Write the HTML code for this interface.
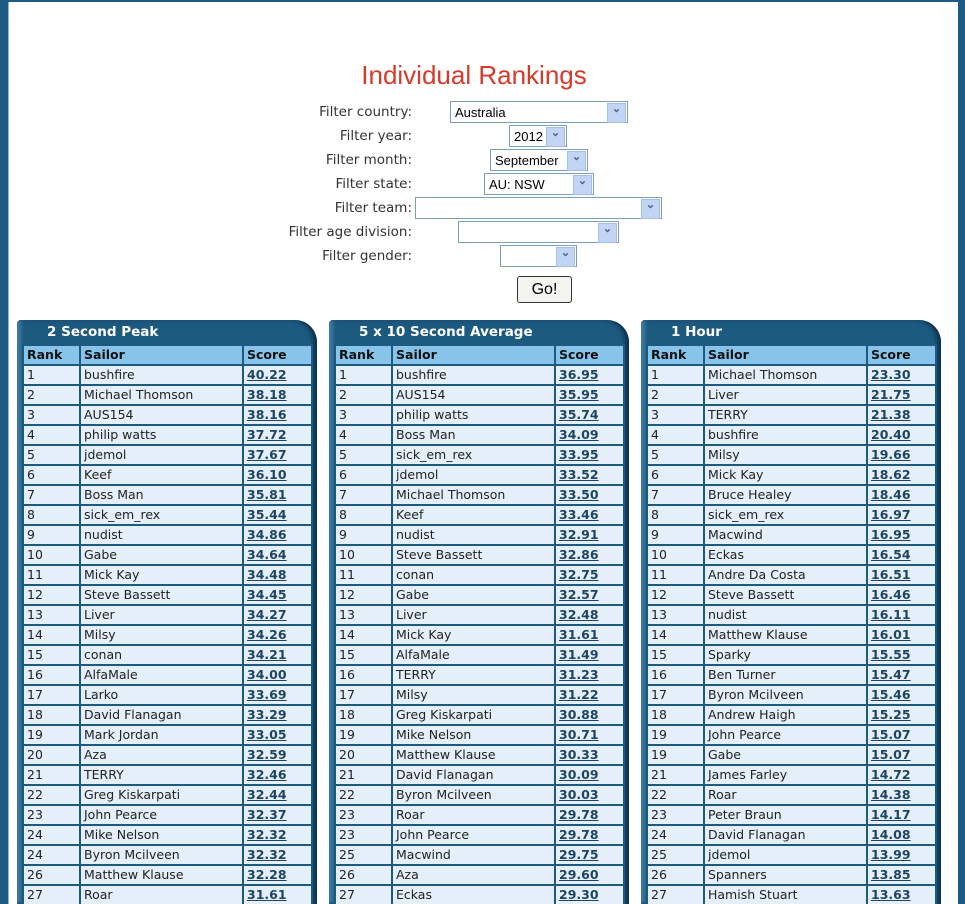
<!DOCTYPE html>
<html><head><meta charset="utf-8">
<style>
*{margin:0;padding:0;box-sizing:border-box}
html,body{width:965px;height:904px;overflow:hidden}
body{background:#fff;position:relative;font-family:"DejaVu Sans",Verdana,sans-serif}
.lb{position:absolute;left:0;top:0;width:9px;height:904px;background:#1e5b84;border-right:1px solid #8fb4cc}
.rb{position:absolute;right:0;top:0;width:7px;height:904px;background:#1e5b84}
.tb{position:absolute;left:0;top:0;width:965px;height:2px;background:#1e5b84}
h1{position:absolute;left:0;width:948px;top:60px;text-align:center;font:normal 26px "Liberation Sans",Arial,sans-serif;color:#d83a2a}
.lbl{position:absolute;right:553px;font-size:13.5px;color:#333;text-align:right;white-space:nowrap}
.sel{position:absolute;height:22px;border:1px solid #7f9db9;background:#fff;font:13px "Liberation Sans",Arial,sans-serif;padding:3px 4px;color:#000}
.sel:after{content:"⌄";position:absolute;right:1px;top:1px;width:17px;height:18px;background:#c3d5f5;border:1px solid #a6bde6;color:#4d6185;font-size:11px;text-align:center;line-height:10px;font-weight:bold}
.go{position:absolute;left:517px;top:276px;width:55px;height:27px;border:1px solid #333;border-radius:3px;background:#f4f4f0;font:16px "Liberation Sans",Arial,sans-serif;text-align:center;line-height:25px}
.panel{position:absolute;top:320px;width:300px;height:584px;overflow:hidden;background:#1d5a80;border-radius:4px 22px 0 0;box-shadow:inset -4px 0 4px #0e3350,inset 4px 0 3px #3d7aa2}
.panel .t{position:absolute;left:30px;top:4px;color:#fff;font-weight:bold;font-size:13.5px}
table{position:absolute;left:5px;top:24px;width:289px;table-layout:fixed;border-collapse:collapse;font-size:12.5px}
td{border:2px solid #1d5a80;background:#e4eff9;height:20px;padding:0 2px 0 3px;color:#222;line-height:16px;white-space:nowrap;overflow:hidden}
tr.h td{background:#88c3ea;font-weight:bold;color:#111}
td.s{font-weight:bold;text-decoration:underline;color:#1d4561}
</style></head><body>
<div class="lb"></div><div class="rb"></div><div class="tb"></div>
<h1>Individual Rankings</h1>
<div class="lbl" style="top:104px">Filter country:</div><div class="sel" style="left:450px;top:101px;width:178px">Australia</div>
<div class="lbl" style="top:128px">Filter year:</div><div class="sel" style="left:509px;top:125px;width:58px">2012</div>
<div class="lbl" style="top:152px">Filter month:</div><div class="sel" style="left:490px;top:149px;width:98px">September</div>
<div class="lbl" style="top:176px">Filter state:</div><div class="sel" style="left:484px;top:173px;width:110px">AU: NSW</div>
<div class="lbl" style="top:200px">Filter team:</div><div class="sel" style="left:415px;top:197px;width:247px"></div>
<div class="lbl" style="top:224px">Filter age division:</div><div class="sel" style="left:458px;top:221px;width:161px"></div>
<div class="lbl" style="top:248px">Filter gender:</div><div class="sel" style="left:500px;top:245px;width:77px"></div>
<div class="go">Go!</div>

<div class="panel" style="left:17px"><div class="t">2 Second Peak</div>
<table><colgroup><col style="width:57px"><col style="width:163px"><col style="width:69px"></colgroup>
<tr class="h"><td>Rank</td><td>Sailor</td><td>Score</td></tr>
<tr><td>1</td><td>bushfire</td><td class="s">40.22</td></tr>
<tr><td>2</td><td>Michael Thomson</td><td class="s">38.18</td></tr>
<tr><td>3</td><td>AUS154</td><td class="s">38.16</td></tr>
<tr><td>4</td><td>philip watts</td><td class="s">37.72</td></tr>
<tr><td>5</td><td>jdemol</td><td class="s">37.67</td></tr>
<tr><td>6</td><td>Keef</td><td class="s">36.10</td></tr>
<tr><td>7</td><td>Boss Man</td><td class="s">35.81</td></tr>
<tr><td>8</td><td>sick_em_rex</td><td class="s">35.44</td></tr>
<tr><td>9</td><td>nudist</td><td class="s">34.86</td></tr>
<tr><td>10</td><td>Gabe</td><td class="s">34.64</td></tr>
<tr><td>11</td><td>Mick Kay</td><td class="s">34.48</td></tr>
<tr><td>12</td><td>Steve Bassett</td><td class="s">34.45</td></tr>
<tr><td>13</td><td>Liver</td><td class="s">34.27</td></tr>
<tr><td>14</td><td>Milsy</td><td class="s">34.26</td></tr>
<tr><td>15</td><td>conan</td><td class="s">34.21</td></tr>
<tr><td>16</td><td>AlfaMale</td><td class="s">34.00</td></tr>
<tr><td>17</td><td>Larko</td><td class="s">33.69</td></tr>
<tr><td>18</td><td>David Flanagan</td><td class="s">33.29</td></tr>
<tr><td>19</td><td>Mark Jordan</td><td class="s">33.05</td></tr>
<tr><td>20</td><td>Aza</td><td class="s">32.59</td></tr>
<tr><td>21</td><td>TERRY</td><td class="s">32.46</td></tr>
<tr><td>22</td><td>Greg Kiskarpati</td><td class="s">32.44</td></tr>
<tr><td>23</td><td>John Pearce</td><td class="s">32.37</td></tr>
<tr><td>24</td><td>Mike Nelson</td><td class="s">32.32</td></tr>
<tr><td>24</td><td>Byron Mcilveen</td><td class="s">32.32</td></tr>
<tr><td>26</td><td>Matthew Klause</td><td class="s">32.28</td></tr>
<tr><td>27</td><td>Roar</td><td class="s">31.61</td></tr>
</table></div>

<div class="panel" style="left:329px"><div class="t">5 x 10 Second Average</div>
<table><colgroup><col style="width:57px"><col style="width:163px"><col style="width:69px"></colgroup>
<tr class="h"><td>Rank</td><td>Sailor</td><td>Score</td></tr>
<tr><td>1</td><td>bushfire</td><td class="s">36.95</td></tr>
<tr><td>2</td><td>AUS154</td><td class="s">35.95</td></tr>
<tr><td>3</td><td>philip watts</td><td class="s">35.74</td></tr>
<tr><td>4</td><td>Boss Man</td><td class="s">34.09</td></tr>
<tr><td>5</td><td>sick_em_rex</td><td class="s">33.95</td></tr>
<tr><td>6</td><td>jdemol</td><td class="s">33.52</td></tr>
<tr><td>7</td><td>Michael Thomson</td><td class="s">33.50</td></tr>
<tr><td>8</td><td>Keef</td><td class="s">33.46</td></tr>
<tr><td>9</td><td>nudist</td><td class="s">32.91</td></tr>
<tr><td>10</td><td>Steve Bassett</td><td class="s">32.86</td></tr>
<tr><td>11</td><td>conan</td><td class="s">32.75</td></tr>
<tr><td>12</td><td>Gabe</td><td class="s">32.57</td></tr>
<tr><td>13</td><td>Liver</td><td class="s">32.48</td></tr>
<tr><td>14</td><td>Mick Kay</td><td class="s">31.61</td></tr>
<tr><td>15</td><td>AlfaMale</td><td class="s">31.49</td></tr>
<tr><td>16</td><td>TERRY</td><td class="s">31.23</td></tr>
<tr><td>17</td><td>Milsy</td><td class="s">31.22</td></tr>
<tr><td>18</td><td>Greg Kiskarpati</td><td class="s">30.88</td></tr>
<tr><td>19</td><td>Mike Nelson</td><td class="s">30.71</td></tr>
<tr><td>20</td><td>Matthew Klause</td><td class="s">30.33</td></tr>
<tr><td>21</td><td>David Flanagan</td><td class="s">30.09</td></tr>
<tr><td>22</td><td>Byron Mcilveen</td><td class="s">30.03</td></tr>
<tr><td>23</td><td>Roar</td><td class="s">29.78</td></tr>
<tr><td>23</td><td>John Pearce</td><td class="s">29.78</td></tr>
<tr><td>25</td><td>Macwind</td><td class="s">29.75</td></tr>
<tr><td>26</td><td>Aza</td><td class="s">29.60</td></tr>
<tr><td>27</td><td>Eckas</td><td class="s">29.30</td></tr>
</table></div>

<div class="panel" style="left:641px"><div class="t">1 Hour</div>
<table><colgroup><col style="width:57px"><col style="width:163px"><col style="width:69px"></colgroup>
<tr class="h"><td>Rank</td><td>Sailor</td><td>Score</td></tr>
<tr><td>1</td><td>Michael Thomson</td><td class="s">23.30</td></tr>
<tr><td>2</td><td>Liver</td><td class="s">21.75</td></tr>
<tr><td>3</td><td>TERRY</td><td class="s">21.38</td></tr>
<tr><td>4</td><td>bushfire</td><td class="s">20.40</td></tr>
<tr><td>5</td><td>Milsy</td><td class="s">19.66</td></tr>
<tr><td>6</td><td>Mick Kay</td><td class="s">18.62</td></tr>
<tr><td>7</td><td>Bruce Healey</td><td class="s">18.46</td></tr>
<tr><td>8</td><td>sick_em_rex</td><td class="s">16.97</td></tr>
<tr><td>9</td><td>Macwind</td><td class="s">16.95</td></tr>
<tr><td>10</td><td>Eckas</td><td class="s">16.54</td></tr>
<tr><td>11</td><td>Andre Da Costa</td><td class="s">16.51</td></tr>
<tr><td>12</td><td>Steve Bassett</td><td class="s">16.46</td></tr>
<tr><td>13</td><td>nudist</td><td class="s">16.11</td></tr>
<tr><td>14</td><td>Matthew Klause</td><td class="s">16.01</td></tr>
<tr><td>15</td><td>Sparky</td><td class="s">15.55</td></tr>
<tr><td>16</td><td>Ben Turner</td><td class="s">15.47</td></tr>
<tr><td>17</td><td>Byron Mcilveen</td><td class="s">15.46</td></tr>
<tr><td>18</td><td>Andrew Haigh</td><td class="s">15.25</td></tr>
<tr><td>19</td><td>John Pearce</td><td class="s">15.07</td></tr>
<tr><td>19</td><td>Gabe</td><td class="s">15.07</td></tr>
<tr><td>21</td><td>James Farley</td><td class="s">14.72</td></tr>
<tr><td>22</td><td>Roar</td><td class="s">14.38</td></tr>
<tr><td>23</td><td>Peter Braun</td><td class="s">14.17</td></tr>
<tr><td>24</td><td>David Flanagan</td><td class="s">14.08</td></tr>
<tr><td>25</td><td>jdemol</td><td class="s">13.99</td></tr>
<tr><td>26</td><td>Spanners</td><td class="s">13.85</td></tr>
<tr><td>27</td><td>Hamish Stuart</td><td class="s">13.63</td></tr>
</table></div>
</body></html>
